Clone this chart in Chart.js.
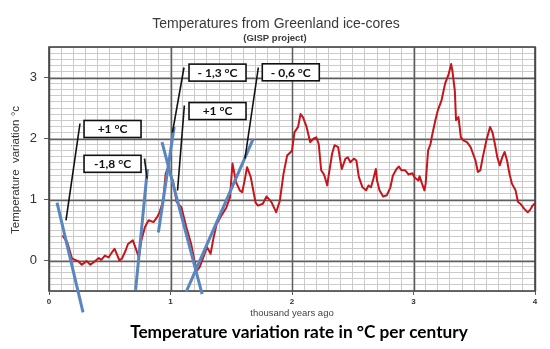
<!DOCTYPE html>
<html>
<head>
<meta charset="utf-8">
<script src="https://cdn.jsdelivr.net/npm/chart.js@4.4.1/dist/chart.umd.min.js"></script>
<style>
  html, body { margin: 0; padding: 0; background: #fff; }
</style>
</head>
<body>
<canvas id="chart" width="550" height="349"></canvas>
<script>
// --- DATA ---
const kyrAgo = [
  0.11, 0.15, 0.19, 0.24, 0.27, 0.31, 0.34, 0.38, 0.41, 0.43, 0.46, 0.49, 0.52, 0.54, 0.58, 0.60,
  0.63, 0.65, 0.69, 0.71, 0.74, 0.76, 0.79, 0.82, 0.86, 0.89, 0.91, 0.94, 0.96, 0.98, 1.00, 1.02,
  1.05, 1.09, 1.13, 1.17, 1.20, 1.22, 1.24, 1.27, 1.30, 1.33, 1.35, 1.38, 1.42, 1.46, 1.49, 1.51,
  1.54, 1.57, 1.59, 1.61, 1.63, 1.66, 1.70, 1.72, 1.76, 1.79, 1.83, 1.87, 1.90, 1.93, 1.96, 2.00,
  2.02, 2.05, 2.07, 2.09, 2.12, 2.15, 2.18, 2.20, 2.22, 2.24, 2.26, 2.27, 2.29, 2.30, 2.33, 2.35,
  2.38, 2.40, 2.41, 2.44, 2.46, 2.48, 2.51, 2.53, 2.55, 2.58, 2.61, 2.63, 2.65, 2.67, 2.69, 2.70,
  2.72, 2.75, 2.78, 2.81, 2.83, 2.86, 2.88, 2.90, 2.93, 2.96, 2.99, 3.01, 3.04, 3.05, 3.07, 3.09,
  3.10, 3.12, 3.14, 3.15, 3.18, 3.20, 3.23, 3.26, 3.29, 3.31, 3.32, 3.34, 3.35, 3.37, 3.39, 3.41,
  3.44, 3.47, 3.49, 3.51, 3.53, 3.55, 3.57, 3.60, 3.63, 3.65, 3.67, 3.69, 3.71, 3.73, 3.75, 3.77,
  3.79, 3.81, 3.84, 3.86, 3.88, 3.91, 3.94, 3.96, 3.98, 4.00
];
const tempVar = [
  0.41, 0.30, 0.03, -0.01, -0.07, -0.01, -0.07, -0.01, 0.04, 0.01, 0.08, 0.05, 0.14, 0.19, 0.00, 0.03,
  0.16, 0.27, 0.33, 0.22, 0.05, 0.33, 0.55, 0.66, 0.63, 0.71, 0.79, 0.98, 1.42, 1.53, 1.40, 1.31,
  0.96, 0.87, 0.55, 0.27, -0.03, -0.16, -0.11, 0.05, 0.22, 0.11, 0.33, 0.60, 0.74, 0.87, 1.04, 1.59,
  1.28, 1.15, 1.12, 1.31, 1.53, 1.37, 0.95, 0.90, 0.93, 1.05, 0.96, 0.79, 0.98, 1.42, 1.72, 1.80,
  2.10, 2.19, 2.40, 2.35, 2.19, 1.94, 2.00, 2.02, 1.91, 1.48, 1.42, 1.37, 1.23, 1.37, 1.75, 1.89,
  1.86, 1.61, 1.50, 1.67, 1.69, 1.61, 1.67, 1.64, 1.37, 1.20, 1.15, 1.23, 1.20, 1.34, 1.50, 1.31,
  1.15, 1.05, 1.07, 1.20, 1.39, 1.50, 1.54, 1.48, 1.48, 1.41, 1.43, 1.36, 1.31, 1.38, 1.26, 1.15,
  1.26, 1.80, 1.91, 2.02, 2.30, 2.46, 2.62, 2.90, 3.06, 3.22, 3.11, 2.79, 2.30, 2.35, 2.02, 1.97,
  1.94, 1.86, 1.75, 1.64, 1.45, 1.48, 1.69, 1.97, 2.19, 2.10, 1.91, 1.69, 1.56, 1.69, 1.78, 1.64,
  1.42, 1.26, 1.15, 0.96, 0.93, 0.85, 0.79, 0.83, 0.90, 0.94
];

// blue rate-of-change lines: start and end points
const trendX = [[0.066, 0.28], [0.713, 0.81], [0.90, 1.03], [0.93, 1.26], [1.13, 1.68]];
const trendY = [[0.95, -0.85], [-0.48, 1.50], [0.46, 2.19], [1.94, -0.55], [-0.51, 1.99]];

// black leader lines from the labels
const leaderX = [[0.14, 0.255], [0.786, 0.807], [1.016, 1.111], [1.058, 1.114], [1.613, 1.723]];
const leaderY = [[0.656, 2.246], [1.672, 1.344], [2.098, 3.164], [1.148, 2.541], [1.672, 3.164]];

// rate labels, anchored at their box centre
const rateLabels = ['+1 °C', '-1,8 °C', '- 1,3 °C', '+1 °C', '- 0,6 °C'];
const rateLabelX = [0.523, 0.523, 1.387, 1.387, 1.99];
const rateLabelY = [2.156, 1.585, 3.08, 2.45, 3.085];

const xTickLabels = ['0', '1', '2', '3', '4'];
const yTickLabels = ['0', '1', '2', '3'];

// --- STYLE ---
const RED = '#c4161c';
const BLUE = '#5a86c0';
const MINOR = '#cbcbcb';
const MAJOR = '#5e5e5e';

const isWhole = v => Math.abs(v - Math.round(v)) < 1e-6;

function tickColor(ctx) {
  const v = ctx.tick ? ctx.tick.value : 0;
  return isWhole(v) ? MAJOR : 'rgba(0,0,0,0)';
}

const datasets = [];

leaderX.forEach((xs, i) => {
  datasets.push({
    data: xs.map((x, j) => ({ x, y: leaderY[i][j] })),
    borderColor: '#111',
    borderWidth: 1.6,
    pointRadius: 0,
    clip: false,
    order: 0
  });
});

trendX.forEach((xs, i) => {
  datasets.push({
    data: xs.map((x, j) => ({ x, y: trendY[i][j] })),
    borderColor: BLUE,
    borderWidth: 3,
    pointRadius: 0,
    clip: false,
    order: 1
  });
});

datasets.push({
  data: kyrAgo.map((x, i) => ({ x, y: tempVar[i] })),
  borderColor: RED,
  borderWidth: 2,
  borderJoinStyle: 'round',
  pointRadius: 0,
  tension: 0,
  order: 2
});

// boxed labels, major grid and page texts
const annotatePlugin = {
  id: 'annotate',
  beforeDraw(chart) {
    const c = chart.ctx;
    c.save();
    c.fillStyle = '#fff';
    c.fillRect(0, 0, chart.width, chart.height);
    c.restore();
  },
  beforeDatasetsDraw(chart) {
    // major lines drawn over the minor grid
    const c = chart.ctx;
    const a = chart.chartArea;
    const xs = chart.scales.x, ys = chart.scales.y;
    c.save();
    c.strokeStyle = MAJOR;
    c.lineWidth = 1.5;
    c.beginPath();
    xs.ticks.forEach(t => {
      if (!isWhole(t.value)) return;
      const px = Math.round(xs.getPixelForValue(t.value)) + 0.5;
      c.moveTo(px, a.top);
      c.lineTo(px, a.bottom);
    });
    ys.ticks.forEach(t => {
      if (!isWhole(t.value)) return;
      const py = Math.round(ys.getPixelForValue(t.value)) + 0.5;
      c.moveTo(a.left, py);
      c.lineTo(a.right, py);
    });
    c.stroke();
    c.strokeStyle = '#444';
    c.lineWidth = 1.6;
    c.strokeRect(a.left, a.top, a.right - a.left, a.bottom - a.top);
    c.restore();
  },
  afterDatasetsDraw(chart) {
    const c = chart.ctx;
    const xs = chart.scales.x, ys = chart.scales.y;
    c.save();
    c.font = 'bold 12px Lato, "Liberation Sans", sans-serif';
    c.textAlign = 'center';
    c.textBaseline = 'middle';
    rateLabels.forEach((t, i) => {
      const cx = xs.getPixelForValue(rateLabelX[i]);
      const cy = ys.getPixelForValue(rateLabelY[i]);
      const w = 57, h = 17;
      c.fillStyle = '#fff';
      c.fillRect(cx - w / 2, cy - h / 2, w, h);
      c.strokeStyle = '#111';
      c.lineWidth = 1.6;
      c.strokeRect(cx - w / 2, cy - h / 2, w, h);
      c.fillStyle = '#111';
      c.fillText(t, cx, cy + 0.5);
    });
    c.restore();
  },
  afterDraw(chart) {
    const c = chart.ctx;
    c.save();
    c.textAlign = 'center';
    c.textBaseline = 'middle';

    c.fillStyle = '#3a3a3a';
    c.font = '14px "Liberation Sans", Arial, sans-serif';
    c.fillText('Temperatures from Greenland ice-cores', 276, 24);
    c.font = 'bold 9.5px "Liberation Sans", Arial, sans-serif';
    c.fillText('(GISP project)', 275, 38.5);

    c.font = '9.5px "Liberation Sans", Arial, sans-serif';
    c.fillStyle = '#444';
    c.fillText('thousand years ago', 292, 313);

    // caption, fitted to the width it has in the picture
    const cap = 'Temperature variation rate in °C per century';
    c.font = 'bold 16px Lato, "Liberation Sans", sans-serif';
    const size = 16 * 338 / c.measureText(cap).width;
    c.font = 'bold ' + size.toFixed(2) + 'px Lato, "Liberation Sans", sans-serif';
    c.fillStyle = '#000';
    c.fillText(cap, 299, 332);

    c.translate(16, 170);
    c.rotate(-Math.PI / 2);
    c.font = '11.5px "Liberation Sans", Arial, sans-serif';
    c.fillStyle = '#333';
    c.fillText('Temperature  variation °c', 0, 0);
    c.restore();
  }
};

new Chart(document.getElementById('chart'), {
  type: 'line',
  data: { datasets },
  plugins: [annotatePlugin],
  options: {
    responsive: false,
    animation: false,
    events: [],
    layout: { padding: { top: 47, right: 15, bottom: 0, left: 0 } },
    plugins: {
      legend: { display: false },
      title: { display: false },
      tooltip: { enabled: false }
    },
    scales: {
      x: {
        type: 'linear',
        min: 0,
        max: 4,
        afterFit: s => { s.height = 58; },
        ticks: {
          stepSize: 0.1,
          autoSkip: false,
          maxRotation: 0,
          padding: 2,
          color: '#333',
          font: { size: 8, weight: 'bold', family: '"Liberation Sans", Arial, sans-serif' },
          callback: v => (isWhole(v) ? xTickLabels[Math.round(v)] : '')
        },
        grid: { color: MINOR, lineWidth: 1, tickColor: tickColor, tickLength: 4 },
        border: { display: false }
      },
      y: {
        type: 'linear',
        min: -0.5,
        max: 3.5,
        afterFit: s => { s.width = 49; },
        ticks: {
          stepSize: 0.1,
          autoSkip: false,
          padding: 7,
          color: '#333',
          font: { size: 13, family: '"Liberation Sans", Arial, sans-serif' },
          callback: v => (isWhole(v) && Math.round(v) >= 0 ? yTickLabels[Math.round(v)] : '')
        },
        grid: { color: MINOR, lineWidth: 1, tickColor: tickColor, tickLength: 5 },
        border: { display: false }
      }
    }
  }
});
</script>
</body>
</html>
